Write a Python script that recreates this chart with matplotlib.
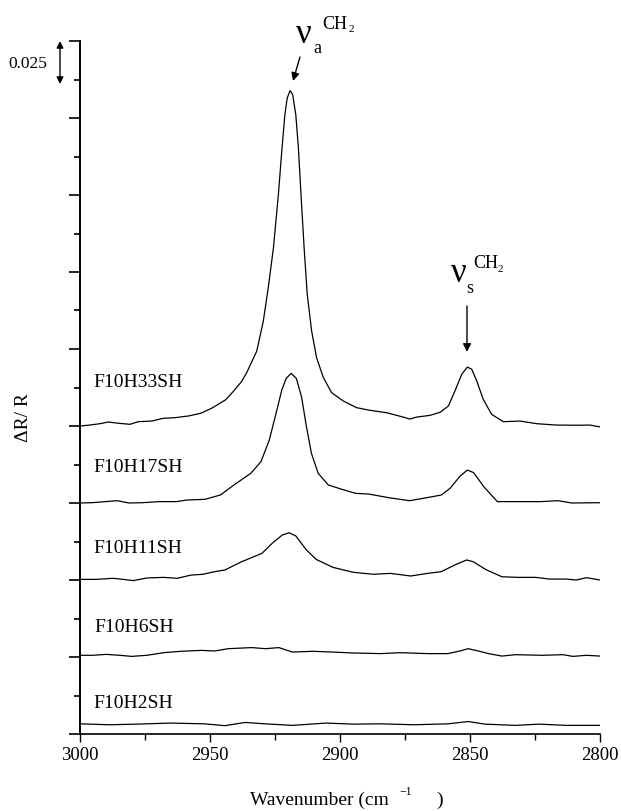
import numpy as np
import matplotlib
matplotlib.use("Agg")
import matplotlib.pyplot as plt
from matplotlib.ticker import MultipleLocator

# spectra: wavenumber (cm-1) and dR/R above each trace's baseline
wn_h33 = [3000, 2996.8, 2992.3, 2989.1, 2985.3, 2980.8, 2977.6, 2972.4, 2968.0, 2963.5,
          2958.3, 2953.5, 2949.4, 2947.4, 2944.0, 2941.0, 2937.8, 2935.9, 2932.0, 2929.5,
          2927.6, 2925.6, 2923.7, 2922.4, 2921.2, 2920.3, 2919.2, 2918.2, 2917.0, 2916.0,
          2915.0, 2913.8, 2912.6, 2910.9, 2909.0, 2906.4, 2903.2, 2898.7, 2893.6, 2888.5,
          2882.0, 2875.7, 2873.1, 2870.5, 2865.4, 2861.5, 2858.3, 2855.8, 2853.2, 2851.0,
          2849.3, 2847.4, 2844.9, 2841.7, 2837.2, 2830.8, 2824.3, 2816.7, 2809.0, 2803.8, 2800]
dr_h33 = [0.0, 0.0005, 0.0015, 0.0026, 0.0018, 0.0011, 0.0028, 0.0032, 0.0050, 0.0054,
          0.0065, 0.0083, 0.0115, 0.0135, 0.0170, 0.0225, 0.0290, 0.0346, 0.0487, 0.0681,
          0.0897, 0.1157, 0.1503, 0.1784, 0.2022, 0.2130, 0.2178, 0.2152, 0.2022, 0.1805,
          0.1503, 0.1157, 0.0854, 0.0616, 0.0443, 0.0314, 0.0216, 0.0162, 0.0119, 0.0102,
          0.0086, 0.0058, 0.0045, 0.0058, 0.0069, 0.0089, 0.0130, 0.0227, 0.0335, 0.0383,
          0.0368, 0.0292, 0.0173, 0.0076, 0.0028, 0.0032, 0.0015, 0.0006, 0.0005, 0.0006, -0.0006]

wn_h17 = [3000, 2995.4, 2990.2, 2985.7, 2981.2, 2975.9, 2969.4, 2962.9, 2959.0, 2951.9,
          2946.0, 2940.8, 2934.3, 2930.4, 2927.2, 2924.6, 2922.4, 2920.7, 2918.8, 2916.8,
          2914.8, 2912.9, 2911.0, 2908.4, 2904.5, 2899.3, 2894.1, 2888.9, 2881.1, 2873.3,
          2868.1, 2861.0, 2857.7, 2853.8, 2851.0, 2848.6, 2844.7, 2839.5, 2833.0, 2822.6,
          2816.1, 2810.9, 2800]
dr_h17 = [0.0, 0.0002, 0.0009, 0.0015, 0.0, 0.0002, 0.0009, 0.0009, 0.0019, 0.0024,
          0.0052, 0.0117, 0.0193, 0.0268, 0.0409, 0.0582, 0.0733, 0.0809, 0.0842, 0.0809,
          0.0690, 0.0495, 0.0323, 0.0193, 0.0117, 0.0089, 0.0063, 0.0058, 0.0034, 0.0015,
          0.0030, 0.0052, 0.0095, 0.0175, 0.0214, 0.0197, 0.0106, 0.0009, 0.0009, 0.0009,
          0.0015, 0.0, 0.0002]

wn_h11 = [3000, 2993.8, 2987.3, 2983.4, 2979.5, 2974.3, 2967.8, 2962.6, 2957.3, 2952.8,
          2948.2, 2944.3, 2937.8, 2930.0, 2926.1, 2922.2, 2919.6, 2917.0, 2913.1, 2909.2,
          2902.7, 2894.9, 2887.1, 2880.6, 2872.8, 2866.3, 2861.1, 2855.9, 2851.3, 2848.8,
          2843.6, 2837.7, 2831.2, 2824.7, 2819.5, 2813.0, 2809.1, 2805.2, 2800]
dr_h11 = [0.0004, 0.0004, 0.0011, 0.0004, -0.0004, 0.0013, 0.0017, 0.0011, 0.0032, 0.0037,
          0.0054, 0.0065, 0.0119, 0.0173, 0.0238, 0.0292, 0.0307, 0.0286, 0.0199, 0.0134,
          0.0082, 0.0050, 0.0037, 0.0043, 0.0026, 0.0043, 0.0054, 0.0097, 0.0130, 0.0119,
          0.0065, 0.0021, 0.0017, 0.0017, 0.0006, 0.0006, 0.0, 0.0015, 0.0]

wn_h6 = [3000, 2995.1, 2989.9, 2984.7, 2980.1, 2974.3, 2967.8, 2961.2, 2953.4, 2948.2,
         2943.0, 2933.9, 2928.7, 2923.5, 2918.3, 2910.5, 2902.7, 2894.9, 2884.5, 2876.7,
         2866.3, 2858.5, 2853.9, 2850.7, 2846.8, 2842.9, 2837.7, 2832.5, 2822.1, 2814.3,
         2810.4, 2805.2, 2800]
dr_h6 = [0.0011, 0.0011, 0.0017, 0.0011, 0.0004, 0.0011, 0.0028, 0.0037, 0.0043, 0.0039,
         0.0054, 0.0061, 0.0054, 0.0061, 0.0032, 0.0037, 0.0032, 0.0026, 0.0022, 0.0028,
         0.0022, 0.0022, 0.0039, 0.0054, 0.0039, 0.0022, 0.0006, 0.0015, 0.0011, 0.0015,
         0.0004, 0.0011, 0.0006]

wn_h2 = [3000, 2988.6, 2978.2, 2965.2, 2952.1, 2944.3, 2936.5, 2928.7, 2918.3, 2905.3,
         2894.9, 2884.5, 2871.5, 2858.5, 2850.7, 2844.2, 2832.5, 2823.4, 2813.0, 2800]
dr_h2 = [0.0006, 0.0, 0.0004, 0.0011, 0.0006, -0.0006, 0.0015, 0.0006, -0.0004, 0.0011,
         0.0004, 0.0006, 0.0, 0.0006, 0.0021, 0.0004, -0.0004, 0.0004, -0.0004, -0.0004]

samples = ["F10H33SH", "F10H17SH", "F10H11SH", "F10H6SH", "F10H2SH"]
offsets = [0.200, 0.150, 0.100, 0.050, 0.006]
wavenumbers = [wn_h33, wn_h17, wn_h11, wn_h6, wn_h2]
spectra = [dr_h33, dr_h17, dr_h11, dr_h6, dr_h2]
x_ticks = [3000, 2950, 2900, 2850, 2800]

plt.rcParams['font.family'] = ['Liberation Serif', 'DejaVu Serif']

W, H = 621, 811


def px(x, y):
    # pixel position (from top-left) -> figure fraction
    return x / W, 1 - y / H


fig = plt.figure(figsize=(W / 100, H / 100), dpi=100)
ax = fig.add_axes([80 / W, 77 / H, 520 / W, 693 / H])

for wn, dr, off in zip(wavenumbers, spectra, offsets):
    ax.plot(wn, np.array(dr) + off, color='black', lw=0.9)

ax.set_xlim(3000, 2800)
ax.set_ylim(0, 0.45)
ax.set_xticks(x_ticks)
ax.set_xticklabels([str(t) for t in x_ticks])
ax.xaxis.set_minor_locator(MultipleLocator(25))
ax.yaxis.set_major_locator(MultipleLocator(0.05))
ax.yaxis.set_minor_locator(MultipleLocator(0.025))
ax.set_yticklabels([])
ax.tick_params(axis='x', which='major', length=6, width=1, labelsize=13.5, pad=3)
ax.tick_params(axis='x', which='minor', length=4, width=1)
ax.tick_params(axis='y', which='major', length=8, width=1.2)
ax.tick_params(axis='y', which='minor', length=4, width=1.2)
for side in ['top', 'right']:
    ax.spines[side].set_visible(False)
ax.spines['left'].set_linewidth(1.4)
ax.spines['bottom'].set_linewidth(1.2)

# sample names
label_pos = [(93, 387), (93, 472), (93, 553), (94, 632), (93, 708)]
for name, (lx, ly) in zip(samples, label_pos):
    fig.text(*px(lx, ly), name, fontsize=14, ha='left', va='baseline')

# band assignments
fig.text(*px(296, 43), 'ν', fontsize=25, ha='left', va='baseline')
fig.text(*px(313, 53), 'a', fontsize=13, ha='left', va='baseline')
fig.text(*px(322, 29), 'CH', fontsize=13, ha='left', va='baseline')
fig.text(*px(349, 32), '2', fontsize=8, ha='left', va='baseline')
ax.annotate('', xy=px(293, 81), xytext=px(300, 57), xycoords='figure fraction',
            arrowprops=dict(arrowstyle='-|>', color='black', lw=1, mutation_scale=12,
                            shrinkA=0, shrinkB=0))

fig.text(*px(451, 282), 'ν', fontsize=25, ha='left', va='baseline')
fig.text(*px(466, 293), 's', fontsize=13, ha='left', va='baseline')
fig.text(*px(473, 268), 'CH', fontsize=13, ha='left', va='baseline')
fig.text(*px(498, 272), '2', fontsize=8, ha='left', va='baseline')
ax.annotate('', xy=px(467, 352), xytext=px(467, 306), xycoords='figure fraction',
            arrowprops=dict(arrowstyle='-|>', color='black', lw=1, mutation_scale=12,
                            shrinkA=0, shrinkB=0))

# scale bar
fig.text(*px(8, 68), '0.025', fontsize=12.5, ha='left', va='baseline')
ax.annotate('', xy=px(60, 41), xytext=px(60, 84), xycoords='figure fraction',
            arrowprops=dict(arrowstyle='<|-|>', color='black', lw=1, mutation_scale=10,
                            shrinkA=0, shrinkB=0))

# axis titles
fig.text(*px(24, 418), 'ΔR/ R', fontsize=14, rotation=90, ha='center', va='center')
fig.text(*px(250, 805), 'Wavenumber (cm', fontsize=14, ha='left', va='baseline')
fig.text(*px(399, 795), '−1', fontsize=8.5, ha='left', va='baseline')
fig.text(*px(436, 805), ')', fontsize=14, ha='left', va='baseline')

fig.savefig('out.png', dpi=100)
